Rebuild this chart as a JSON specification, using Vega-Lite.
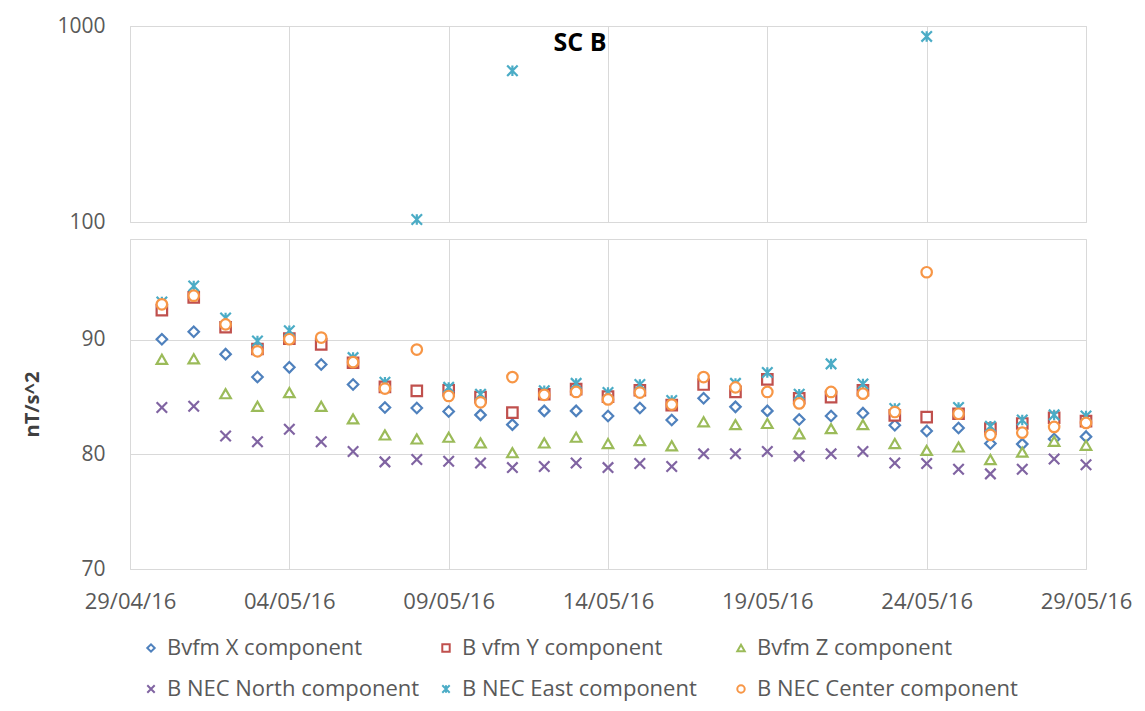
{
  "$schema": "https://vega.github.io/schema/vega-lite/v6.json",
  "padding": {"left": 22, "top": 14, "right": 10, "bottom": 5},
  "background": "white",
  "config": {
    "font": "Open Sans",
    "view": {"stroke": "#D9D9D9", "strokeWidth": 1},
    "axis": {
      "labelFont": "Open Sans",
      "labelColor": "#595959",
      "labelFontSize": 21,
      "gridColor": "#D9D9D9",
      "gridWidth": 1,
      "domain": false,
      "ticks": false,
      "tickSize": 0
    },
    "legend": {"orient": "bottom", "direction": "horizontal", "columns": 3, "labelFont": "Open Sans", "labelFontSize": 22, "labelColor": "#595959", "symbolSize": 55, "symbolStrokeWidth": 2, "symbolFillColor": "white", "columnPadding": 7, "rowPadding": 19, "gridAlign": "all", "offset": 14, "labelOffset": 5, "padding": 10, "labelLimit": 400}
  },
  "datasets": {
    "mag": [
      {"date": "2016-04-30", "Bvfm X component": 90.05, "B vfm Y component": 92.6, "Bvfm Z component": 88.3, "B NEC North component": 84.1, "B NEC East component": 93.3, "B NEC Center component": 93.1},
      {"date": "2016-05-01", "Bvfm X component": 90.7, "B vfm Y component": 93.7, "Bvfm Z component": 88.35, "B NEC North component": 84.2, "B NEC East component": 94.7, "B NEC Center component": 93.85},
      {"date": "2016-05-02", "Bvfm X component": 88.75, "B vfm Y component": 91.1, "Bvfm Z component": 85.3, "B NEC North component": 81.6, "B NEC East component": 91.9, "B NEC Center component": 91.35},
      {"date": "2016-05-03", "Bvfm X component": 86.75, "B vfm Y component": 89.2, "Bvfm Z component": 84.2, "B NEC North component": 81.1, "B NEC East component": 89.9, "B NEC Center component": 89.0},
      {"date": "2016-05-04", "Bvfm X component": 87.6, "B vfm Y component": 90.1, "Bvfm Z component": 85.4, "B NEC North component": 82.2, "B NEC East component": 90.8, "B NEC Center component": 90.05},
      {"date": "2016-05-05", "Bvfm X component": 87.85, "B vfm Y component": 89.6, "Bvfm Z component": 84.2, "B NEC North component": 81.1, "B NEC East component": null, "B NEC Center component": 90.2},
      {"date": "2016-05-06", "Bvfm X component": 86.1, "B vfm Y component": 88.0, "Bvfm Z component": 83.1, "B NEC North component": 80.25, "B NEC East component": 88.45, "B NEC Center component": 88.05},
      {"date": "2016-05-07", "Bvfm X component": 84.1, "B vfm Y component": 85.9, "Bvfm Z component": 81.7, "B NEC North component": 79.35, "B NEC East component": 86.3, "B NEC Center component": 85.75},
      {"date": "2016-05-08", "Bvfm X component": 84.05, "B vfm Y component": 85.55, "Bvfm Z component": 81.35, "B NEC North component": 79.55, "B NEC East component": 102.9, "B NEC Center component": 89.15},
      {"date": "2016-05-09", "Bvfm X component": 83.75, "B vfm Y component": 85.6, "Bvfm Z component": 81.5, "B NEC North component": 79.4, "B NEC East component": 85.85, "B NEC Center component": 85.1},
      {"date": "2016-05-10", "Bvfm X component": 83.45, "B vfm Y component": 85.0, "Bvfm Z component": 81.0, "B NEC North component": 79.25, "B NEC East component": 85.25, "B NEC Center component": 84.55},
      {"date": "2016-05-11", "Bvfm X component": 82.6, "B vfm Y component": 83.65, "Bvfm Z component": 80.15, "B NEC North component": 78.85, "B NEC East component": 591, "B NEC Center component": 86.75},
      {"date": "2016-05-12", "Bvfm X component": 83.8, "B vfm Y component": 85.25, "Bvfm Z component": 81.0, "B NEC North component": 78.95, "B NEC East component": 85.55, "B NEC Center component": 85.2},
      {"date": "2016-05-13", "Bvfm X component": 83.8, "B vfm Y component": 85.7, "Bvfm Z component": 81.5, "B NEC North component": 79.25, "B NEC East component": 86.2, "B NEC Center component": 85.45},
      {"date": "2016-05-14", "Bvfm X component": 83.35, "B vfm Y component": 85.05, "Bvfm Z component": 80.95, "B NEC North component": 78.85, "B NEC East component": 85.4, "B NEC Center component": 84.8},
      {"date": "2016-05-15", "Bvfm X component": 84.05, "B vfm Y component": 85.6, "Bvfm Z component": 81.2, "B NEC North component": 79.2, "B NEC East component": 86.1, "B NEC Center component": 85.4},
      {"date": "2016-05-16", "Bvfm X component": 83.0, "B vfm Y component": 84.3, "Bvfm Z component": 80.75, "B NEC North component": 78.95, "B NEC East component": 84.7, "B NEC Center component": 84.35},
      {"date": "2016-05-17", "Bvfm X component": 84.9, "B vfm Y component": 86.1, "Bvfm Z component": 82.85, "B NEC North component": 80.05, "B NEC East component": null, "B NEC Center component": 86.75},
      {"date": "2016-05-18", "Bvfm X component": 84.15, "B vfm Y component": 85.45, "Bvfm Z component": 82.6, "B NEC North component": 80.05, "B NEC East component": 86.2, "B NEC Center component": 85.85},
      {"date": "2016-05-19", "Bvfm X component": 83.8, "B vfm Y component": 86.55, "Bvfm Z component": 82.7, "B NEC North component": 80.25, "B NEC East component": 87.15, "B NEC Center component": 85.45},
      {"date": "2016-05-20", "Bvfm X component": 83.05, "B vfm Y component": 84.9, "Bvfm Z component": 81.8, "B NEC North component": 79.85, "B NEC East component": 85.25, "B NEC Center component": 84.45},
      {"date": "2016-05-21", "Bvfm X component": 83.35, "B vfm Y component": 85.0, "Bvfm Z component": 82.25, "B NEC North component": 80.05, "B NEC East component": 87.9, "B NEC Center component": 85.45},
      {"date": "2016-05-22", "Bvfm X component": 83.6, "B vfm Y component": 85.6, "Bvfm Z component": 82.6, "B NEC North component": 80.25, "B NEC East component": 86.15, "B NEC Center component": 85.3},
      {"date": "2016-05-23", "Bvfm X component": 82.55, "B vfm Y component": 83.4, "Bvfm Z component": 80.95, "B NEC North component": 79.25, "B NEC East component": 84.0, "B NEC Center component": 83.7},
      {"date": "2016-05-24", "Bvfm X component": 82.05, "B vfm Y component": 83.25, "Bvfm Z component": 80.35, "B NEC North component": 79.2, "B NEC East component": 885, "B NEC Center component": 95.9},
      {"date": "2016-05-25", "Bvfm X component": 82.3, "B vfm Y component": 83.55, "Bvfm Z component": 80.65, "B NEC North component": 78.7, "B NEC East component": 84.1, "B NEC Center component": 83.55},
      {"date": "2016-05-26", "Bvfm X component": 80.95, "B vfm Y component": 82.25, "Bvfm Z component": 79.55, "B NEC North component": 78.3, "B NEC East component": 82.45, "B NEC Center component": 81.7},
      {"date": "2016-05-27", "Bvfm X component": 80.9, "B vfm Y component": 82.7, "Bvfm Z component": 80.2, "B NEC North component": 78.7, "B NEC East component": 83.0, "B NEC Center component": 81.9},
      {"date": "2016-05-28", "Bvfm X component": 81.35, "B vfm Y component": 83.2, "Bvfm Z component": 81.15, "B NEC North component": 79.6, "B NEC East component": 83.45, "B NEC Center component": 82.4},
      {"date": "2016-05-29", "Bvfm X component": 81.55, "B vfm Y component": 82.9, "Bvfm Z component": 80.8, "B NEC North component": 79.1, "B NEC East component": 83.35, "B NEC Center component": 82.75}
    ]
  },
  "data": {"name": "mag"},
  "transform": [
    {"fold": ["Bvfm X component", "B vfm Y component", "Bvfm Z component", "B NEC North component", "B NEC East component", "B NEC Center component"], "as": ["series", "value"]},
    {"filter": "datum.value != null"}
  ],
  "spacing": 5,
  "resolve": {"scale": {"y": "independent"}},
  "vconcat": [
    {
      "width": 956,
      "height": 196,
      "title": {"text": "SC B", "fontSize": 25, "fontWeight": "bold", "color": "black", "font": "Open Sans", "anchor": "middle", "frame": "group", "offset": 0, "baseline": "alphabetic", "dx": -28, "dy": 61},
      "transform": [{"filter": "datum.value >= 99"}],
      "mark": {"type": "point", "filled": false, "fill": "white", "fillOpacity": 1, "strokeWidth": 2.2, "size": 110, "opacity": 1},
      "encoding": {
        "x": {
          "field": "date", "type": "temporal",
          "scale": {"type": "utc", "domain": [{"year": 2016, "month": 4, "date": 29, "utc": true}, {"year": 2016, "month": 5, "date": 29, "utc": true}]},
          "axis": {"labels": false, "title": null, "grid": true,
            "values": [{"year": 2016, "month": 4, "date": 29, "utc": true}, {"year": 2016, "month": 5, "date": 4, "utc": true}, {"year": 2016, "month": 5, "date": 9, "utc": true}, {"year": 2016, "month": 5, "date": 14, "utc": true}, {"year": 2016, "month": 5, "date": 19, "utc": true}, {"year": 2016, "month": 5, "date": 24, "utc": true}, {"year": 2016, "month": 5, "date": 29, "utc": true}]}
        },
        "y": {
          "field": "value", "type": "quantitative",
          "scale": {"type": "log", "domain": [100, 1000], "nice": false},
          "axis": {"values": [100, 1000], "format": "d", "title": null, "labelPadding": 25, "grid": true}
        },
        "stroke": {
          "field": "series", "type": "nominal", "title": null,
          "scale": {"domain": ["Bvfm X component", "B vfm Y component", "Bvfm Z component", "B NEC North component", "B NEC East component", "B NEC Center component"], "range": ["#4F81BD", "#C0504D", "#9BBB59", "#8064A2", "#4BACC6", "#F79646"]}
        },
        "shape": {
          "field": "series", "type": "nominal", "title": null,
          "scale": {"domain": ["Bvfm X component", "B vfm Y component", "Bvfm Z component", "B NEC North component", "B NEC East component", "B NEC Center component"], "range": ["diamond", "square", "triangle-up", "M-1,-1L1,1M-1,1L1,-1", "M-1,-1L1,1M-1,1L1,-1M0,-1L0,1", "circle"]}
        }
      }
    },
    {
      "width": 956,
      "height": 330,
      "transform": [{"filter": "datum.value < 99"}],
      "mark": {"type": "point", "filled": false, "fill": "white", "fillOpacity": 1, "strokeWidth": 2.2, "size": 110, "opacity": 1},
      "encoding": {
        "x": {
          "field": "date", "type": "temporal",
          "scale": {"type": "utc", "domain": [{"year": 2016, "month": 4, "date": 29, "utc": true}, {"year": 2016, "month": 5, "date": 29, "utc": true}]},
          "axis": {"format": "%d/%m/%y", "title": null, "grid": true, "labelPadding": 22, "labelFlush": false, "labelOverlap": false, "labelFontSize": 22,
            "values": [{"year": 2016, "month": 4, "date": 29, "utc": true}, {"year": 2016, "month": 5, "date": 4, "utc": true}, {"year": 2016, "month": 5, "date": 9, "utc": true}, {"year": 2016, "month": 5, "date": 14, "utc": true}, {"year": 2016, "month": 5, "date": 19, "utc": true}, {"year": 2016, "month": 5, "date": 24, "utc": true}, {"year": 2016, "month": 5, "date": 29, "utc": true}]}
        },
        "y": {
          "field": "value", "type": "quantitative",
          "scale": {"domain": [70, 98.8], "nice": false, "zero": false},
          "axis": {"values": [70, 80, 90], "title": "nT/s^2", "titleFont": "Open Sans", "titleFontSize": 20, "titleFontWeight": "bold", "titleColor": "#404040", "titlePadding": 38, "labelPadding": 25, "grid": true}
        },
        "stroke": {
          "field": "series", "type": "nominal", "title": null,
          "scale": {"domain": ["Bvfm X component", "B vfm Y component", "Bvfm Z component", "B NEC North component", "B NEC East component", "B NEC Center component"], "range": ["#4F81BD", "#C0504D", "#9BBB59", "#8064A2", "#4BACC6", "#F79646"]}
        },
        "shape": {
          "field": "series", "type": "nominal", "title": null,
          "scale": {"domain": ["Bvfm X component", "B vfm Y component", "Bvfm Z component", "B NEC North component", "B NEC East component", "B NEC Center component"], "range": ["diamond", "square", "triangle-up", "M-1,-1L1,1M-1,1L1,-1", "M-1,-1L1,1M-1,1L1,-1M0,-1L0,1", "circle"]}
        }
      }
    }
  ]
}
